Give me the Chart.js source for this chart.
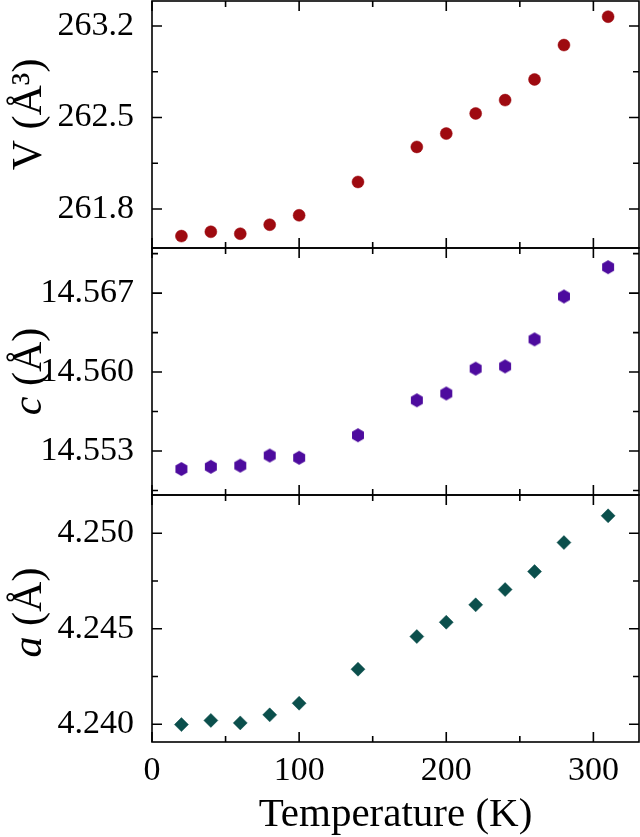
<!DOCTYPE html>
<html>
<head>
<meta charset="utf-8">
<script src="https://cdn.jsdelivr.net/npm/chart.js@4.4.1/dist/chart.umd.min.js"></script>
<style>
  html, body { margin: 0; padding: 0; background: #fff; }
  #wrap { width: 640px; height: 837px; }
</style>
</head>
<body>
<div id="wrap"><canvas id="chart"></canvas></div>
<script>
const temps = [20, 40, 60, 80, 100, 140, 180, 200, 220, 240, 260, 280, 310];
const volume = [261.593, 261.626, 261.611, 261.680, 261.752, 262.007, 262.275, 262.377, 262.531, 262.633, 262.791, 263.054, 263.271];
const cParam = [14.5514, 14.5516, 14.5517, 14.5526, 14.5524, 14.5544, 14.5575, 14.5581, 14.5603, 14.5605, 14.5629, 14.5667, 14.5693];
const aParam = [4.23998, 4.24020, 4.24007, 4.24049, 4.24110, 4.24288, 4.24459, 4.24534, 4.24625, 4.24705, 4.24799, 4.24951, 4.25091];

const xTicks = [0, 100, 200, 300];
const xMinor = [50, 150, 250];
const vTicks = [261.8, 262.5, 263.2];
const vMinor = [262.15, 262.85];
const cTicks = [14.553, 14.560, 14.567];
const cMinor = [14.5495, 14.5565, 14.5635, 14.5705];
const aTicks = [4.240, 4.245, 4.250];
const aMinor = [4.2425, 4.2475];

const SERIF = "'Liberation Serif', 'Times New Roman', serif";

// hexagon marker for the c panel
function hexMarker(color) {
  const cv = document.createElement("canvas");
  cv.width = 16;
  cv.height = 16;
  const g = cv.getContext("2d");
  g.fillStyle = color;
  g.beginPath();
  for (let i = 0; i < 6; i += 1) {
    const ang = Math.PI / 2 + i * Math.PI / 3;
    const px = 8 + 6.9 * Math.cos(ang);
    const py = 8 + 6.9 * Math.sin(ang);
    if (i === 0) g.moveTo(px, py); else g.lineTo(px, py);
  }
  g.closePath();
  g.fill();
  return cv;
}

// shift = nudge of the rotated title along the panel (px, negative = up)
const panels = [
  { id: "yV", ticks: vTicks, minor: vMinor, digits: 1, shift: -10, title: [["V", false], [" (Å³)", false]] },
  { id: "yC", ticks: cTicks, minor: cMinor, digits: 3, shift: 0, title: [["c", true], [" (Å)", false]] },
  { id: "yA", ticks: aTicks, minor: aMinor, digits: 3, shift: -6, title: [["a", true], [" (Å)", false]] },
];

const frameTicks = {
  id: "frameTicks",
  afterDatasetsDraw(chart) {
    const { ctx, chartArea: area, scales } = chart;
    const x = scales.x;
    ctx.save();
    ctx.strokeStyle = "#000";
    ctx.lineWidth = 1.6;
    panels.forEach((p) => {
      const s = scales[p.id];
      const top = s.top;
      const bottom = s.bottom;
      ctx.strokeRect(area.left, top, area.right - area.left, bottom - top);
      ctx.beginPath();
      const xt = (vals, len) => vals.forEach((v) => {
        const px = x.getPixelForValue(v);
        ctx.moveTo(px, bottom); ctx.lineTo(px, bottom - len);
        ctx.moveTo(px, top); ctx.lineTo(px, top + len);
      });
      const yt = (vals, len) => vals.forEach((v) => {
        const py = s.getPixelForValue(v);
        ctx.moveTo(area.left, py); ctx.lineTo(area.left + len, py);
        ctx.moveTo(area.right, py); ctx.lineTo(area.right - len, py);
      });
      xt(xTicks, 10);
      xt(xMinor, 6);
      yt(p.ticks, 10);
      yt(p.minor, 6);
      ctx.stroke();

      // y title, italic symbol + upright unit
      const cy = (top + bottom) / 2 + p.shift;
      ctx.save();
      ctx.translate(41, cy);
      ctx.rotate(-Math.PI / 2);
      ctx.fillStyle = "#000";
      ctx.textBaseline = "alphabetic";
      let w = 0;
      p.title.forEach(([t, it]) => {
        ctx.font = `${it ? "italic " : ""}42px ${SERIF}`;
        w += ctx.measureText(t).width;
      });
      let tx = -w / 2;
      p.title.forEach(([t, it]) => {
        ctx.font = `${it ? "italic " : ""}42px ${SERIF}`;
        ctx.fillText(t, tx, 0);
        tx += ctx.measureText(t).width;
      });
      ctx.restore();
    });
    ctx.restore();
  },
};

function yScale(p, min, max) {
  return {
    type: "linear",
    position: "left",
    stack: "panels",
    stackWeight: 1,
    min,
    max,
    grid: { display: false },
    border: { display: false },
    ticks: {
      color: "#000",
      padding: 10,
      font: { family: SERIF, size: 34 },
      callback: (v) => Number(v).toFixed(p.digits),
    },
    afterBuildTicks: (scale) => { scale.ticks = p.ticks.map((v) => ({ value: v })); },
    afterFit: (scale) => {
      scale.width = 152;
      scale.paddingTop = 0;
      scale.paddingBottom = 0;
    },
  };
}

new Chart(document.getElementById("chart"), {
  type: "scatter",
  data: {
    datasets: [
      {
        data: temps.map((t, i) => ({ x: t, y: volume[i] })),
        yAxisID: "yV",
        pointStyle: "circle",
        pointRadius: 6,
        backgroundColor: "#9e0a10",
        borderColor: "#9e0a10",
        borderWidth: 0.5,
      },
      {
        data: temps.map((t, i) => ({ x: t, y: cParam[i] })),
        yAxisID: "yC",
        pointStyle: hexMarker("#4d0b9e"),
        pointRadius: 8,
        backgroundColor: "#4d0b9e",
        borderColor: "#4d0b9e",
      },
      {
        data: temps.map((t, i) => ({ x: t, y: aParam[i] })),
        yAxisID: "yA",
        pointStyle: "rectRot",
        pointRadius: 7,
        backgroundColor: "#0b4f4c",
        borderColor: "#0b4f4c",
        borderWidth: 0.5,
      },
    ],
  },
  options: {
    responsive: true,
    maintainAspectRatio: false,
    animation: false,
    layout: { autoPadding: false, padding: { top: 1, right: 1, left: 0, bottom: 0 } },
    plugins: { legend: { display: false }, tooltip: { enabled: false } },
    scales: {
      x: {
        type: "linear",
        min: 0,
        max: 331,
        grid: { display: false },
        border: { display: false },
        ticks: {
          color: "#000",
          padding: 1,
          maxRotation: 0,
          font: { family: SERIF, size: 34 },
        },
        afterBuildTicks: (scale) => { scale.ticks = xTicks.map((v) => ({ value: v })); },
        title: {
          display: true,
          text: "Temperature (K)",
          color: "#000",
          font: { family: SERIF, size: 41 },
          padding: { top: 0, bottom: -3 },
        },
        afterFit: (scale) => {
          scale.height = 95;
          scale.paddingLeft = 0;
          scale.paddingRight = 0;
        },
      },
      yA: yScale(panels[2], 4.23907, 4.2520),
      yC: yScale(panels[1], 14.5491, 14.5710),
      yV: yScale(panels[0], 261.502, 263.391),
    },
  },
  plugins: [frameTicks],
});
</script>
</body>
</html>
